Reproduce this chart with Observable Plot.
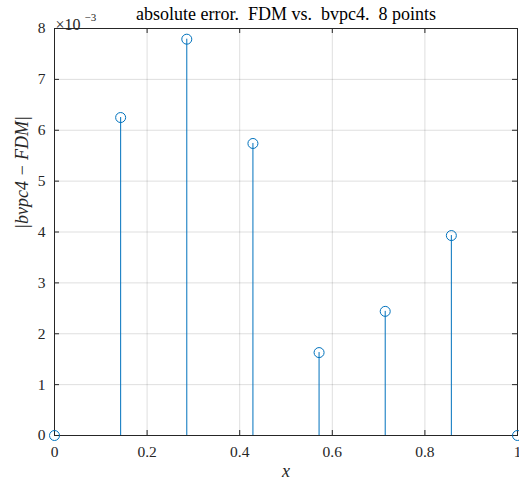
<!DOCTYPE html>
<html><head><meta charset="utf-8">
<script src="https://cdn.jsdelivr.net/npm/d3@7"></script>
<script src="https://cdn.jsdelivr.net/npm/@observablehq/plot@0.6"></script>
<style>body{margin:0;background:#fff}svg{display:block}</style>
</head><body><div id="chart"></div>
<script>
const xs = [0, 1/7, 2/7, 3/7, 4/7, 5/7, 6/7, 1];
const errs = [0, 6.25, 7.79, 5.74, 1.63, 2.44, 3.93, 0]; // ×10^-3
const xTicks = [0, 0.2, 0.4, 0.6, 0.8, 1];
const yTicks = [0, 1, 2, 3, 4, 5, 6, 7, 8];
const titleText = "absolute error.\u2002FDM vs.\u2002bvpc4.\u20028 points";
const xLabel = "x";
const yLabel = "|bvpc4 − FDM|";

const data = xs.map((x, i) => ({x, y: errs[i]}));
const W = 519, H = 479, mL = 54, mR = 2, mT = 28, mB = 44;
const ph = H - mT - mB, pw = W - mL - mR;
const ink = "#262626", blue = "#0072BD";
const font = "Liberation Serif, serif";
const fmt = d => String(d);

const chart = Plot.plot({
  width: W, height: H,
  marginLeft: mL, marginRight: mR, marginTop: mT, marginBottom: mB,
  style: {fontFamily: font, fontSize: "15px", color: ink, background: "#fff"},
  x: {domain: [0, 1]},
  y: {domain: [0, 8]},
  marks: [
    Plot.gridX(xTicks, {stroke: "#000", strokeOpacity: 0.13}),
    Plot.gridY(yTicks, {stroke: "#000", strokeOpacity: 0.13}),
    Plot.tickX(xTicks, {x: d => d, stroke: ink, insetTop: ph - 5}),
    Plot.tickX(xTicks, {x: d => d, stroke: ink, insetBottom: ph - 5}),
    Plot.tickY(yTicks, {y: d => d, stroke: ink, insetRight: pw - 5}),
    Plot.tickY(yTicks, {y: d => d, stroke: ink, insetLeft: pw - 5}),
    Plot.frame({stroke: ink, strokeWidth: 1}),
    Plot.axisX(xTicks, {tickSize: 0, tickPadding: 10, fontSize: 15.5, fill: ink, label: null, tickFormat: fmt}),
    Plot.axisY(yTicks, {tickSize: 0, tickPadding: 9, fontSize: 15.5, fill: ink, label: null, tickFormat: fmt}),
    Plot.ruleX(data, {x: "x", y1: 0, y2: "y", stroke: blue, strokeWidth: 1}),
    Plot.dot(data, {x: "x", y: "y", r: 5, stroke: blue, fill: "none", strokeWidth: 1, clip: false}),
    Plot.text([titleText], {text: d => d, frameAnchor: "top", dy: -21, fontSize: 18, letterSpacing: 1.4, fill: "#000"}),
    Plot.text(["×10"], {text: d => d, frameAnchor: "top-left", textAnchor: "start", dx: 1, dy: -10, fontSize: 16, fill: ink}),
    Plot.text(["−3"], {text: d => d, frameAnchor: "top-left", textAnchor: "start", dx: 30, dy: -15, fontSize: 11, fill: ink}),
    Plot.text([xLabel], {text: d => d, frameAnchor: "bottom", dy: 41, fontSize: 18, fontStyle: "italic", fill: ink}),
    Plot.text([yLabel], {text: d => d, frameAnchor: "left", dx: -32, dy: -3, rotate: -90, fontSize: 18, letterSpacing: 0.6, fontStyle: "italic", fill: ink})
  ]
});
document.getElementById("chart").append(chart);
</script></body></html>
